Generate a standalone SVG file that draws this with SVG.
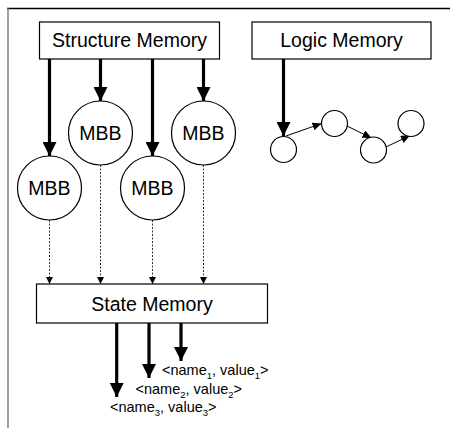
<svg xmlns="http://www.w3.org/2000/svg" width="450" height="428" viewBox="0 0 450 428">
<style>
.box{fill:#fff;stroke:#000;stroke-width:1.2}
.circ{fill:#fff;stroke:#000;stroke-width:1.2}
.lbl{font-family:"Liberation Sans",Arial,sans-serif;font-size:19.5px;fill:#000;text-anchor:middle}
.kv{font-family:"Liberation Sans",Arial,sans-serif;font-size:14.5px;fill:#000}
.thick{stroke:#000;stroke-width:3.2;fill:none;marker-end:url(#big)}
.dash{stroke:#333;stroke-width:1;stroke-dasharray:2 1.5;fill:none;marker-end:url(#small)}
.thin{stroke:#000;stroke-width:1;fill:none;marker-end:url(#mid)}
</style>
<defs>
<marker id="big" markerUnits="userSpaceOnUse" markerWidth="14" markerHeight="14" refX="14" refY="7" orient="auto"><path d="M0,0 L14,7 L0,14 z" fill="#000"/></marker>
<marker id="small" markerUnits="userSpaceOnUse" markerWidth="7" markerHeight="7" refX="7" refY="3.5" orient="auto"><path d="M0,0 L7,3.5 L0,7 z" fill="#000"/></marker>
<marker id="mid" markerUnits="userSpaceOnUse" markerWidth="9" markerHeight="8" refX="9" refY="4" orient="auto"><path d="M0,0 L9,4 L0,8 z" fill="#000"/></marker>
</defs>
<g id="frame">
<line x1="7" y1="8.5" x2="450" y2="8.5" stroke="#000" stroke-width="1.4"/>
<line x1="8" y1="8" x2="8" y2="428" stroke="#777" stroke-width="1.4"/>
</g>
<g id="connectors">
<line class="thick" x1="49.5" y1="59" x2="49.5" y2="156"/>
<line class="thick" x1="100.5" y1="59" x2="100.5" y2="101"/>
<line class="thick" x1="152.5" y1="59" x2="152.5" y2="156"/>
<line class="thick" x1="203.5" y1="59" x2="203.5" y2="101"/>
<line class="thick" x1="283.5" y1="59" x2="283.5" y2="136"/>
<line class="dash" x1="49.5" y1="220" x2="49.5" y2="284"/>
<line class="dash" x1="100.5" y1="165" x2="100.5" y2="284"/>
<line class="dash" x1="152.5" y1="220" x2="152.5" y2="284"/>
<line class="dash" x1="203.5" y1="165" x2="203.5" y2="284"/>
<line class="thin" x1="286" y1="136" x2="321.5" y2="123.5"/>
<line class="thin" x1="347" y1="126" x2="371.5" y2="138"/>
<line class="thin" x1="386" y1="147" x2="410" y2="135.5"/>
<line class="thick" x1="116.7" y1="323" x2="116.7" y2="397"/>
<line class="thick" x1="149" y1="323" x2="149" y2="378"/>
<line class="thick" x1="181" y1="323" x2="181" y2="361"/>
</g>
<g id="structure-memory">
<rect class="box" x="39.5" y="22" width="180" height="37"/>
<text class="lbl" x="129.5" y="47">Structure Memory</text>
</g>
<g id="logic-memory">
<rect class="box" x="252" y="22" width="179" height="37"/>
<text class="lbl" x="341.5" y="47">Logic Memory</text>
</g>
<g id="mbb1"><circle class="circ" cx="49.5" cy="188" r="32"/><text class="lbl" x="49.5" y="195">MBB</text></g>
<g id="mbb2"><circle class="circ" cx="100.5" cy="133" r="32"/><text class="lbl" x="100.5" y="140">MBB</text></g>
<g id="mbb3"><circle class="circ" cx="152.5" cy="188" r="32"/><text class="lbl" x="152.5" y="195">MBB</text></g>
<g id="mbb4"><circle class="circ" cx="203.5" cy="133" r="32"/><text class="lbl" x="203.5" y="140">MBB</text></g>
<g id="logic-a"><circle class="circ" cx="283.5" cy="149.5" r="13"/></g>
<g id="logic-b"><circle class="circ" cx="334.5" cy="123.5" r="13"/></g>
<g id="logic-c"><circle class="circ" cx="373.5" cy="150" r="13"/></g>
<g id="logic-d"><circle class="circ" cx="411" cy="123.5" r="13"/></g>
<g id="state-memory">
<rect class="box" x="36.5" y="284" width="231" height="39"/>
<text class="lbl" x="152" y="310.5">State Memory</text>
</g>
<g id="pairs">
<text class="kv" x="162" y="375">&lt;name<tspan font-size="9.5" dy="4">1</tspan><tspan dy="-4">, value</tspan><tspan font-size="9.5" dy="4">1</tspan><tspan dy="-4">&gt;</tspan></text>
<text class="kv" x="135.5" y="394">&lt;name<tspan font-size="9.5" dy="4">2</tspan><tspan dy="-4">, value</tspan><tspan font-size="9.5" dy="4">2</tspan><tspan dy="-4">&gt;</tspan></text>
<text class="kv" x="110" y="412">&lt;name<tspan font-size="9.5" dy="4">3</tspan><tspan dy="-4">, value</tspan><tspan font-size="9.5" dy="4">3</tspan><tspan dy="-4">&gt;</tspan></text>
</g>
</svg>
